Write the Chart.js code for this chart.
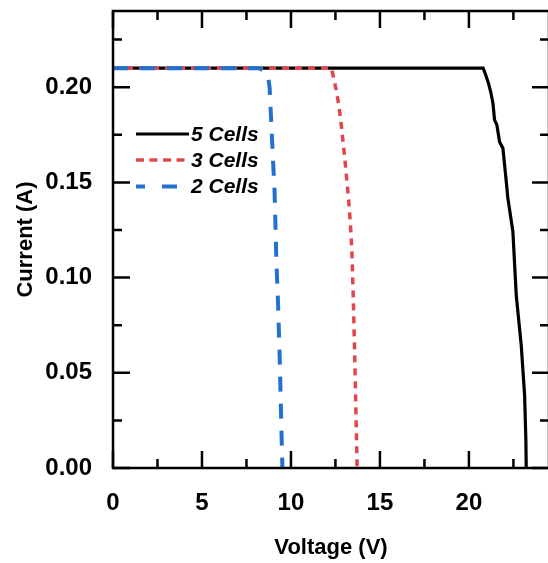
<!DOCTYPE html>
<html>
<head>
<meta charset="utf-8">
<script src="https://cdn.jsdelivr.net/npm/chart.js@4"></script>
<style>
  html, body { margin: 0; padding: 0; background: #fff; overflow: hidden; }
  #wrap { width: 548px; height: 563px; overflow: hidden; position: relative; }
</style>
</head>
<body>
<div id="wrap"><canvas id="c" width="556" height="563"></canvas></div>
<script>
// ---- data ----
const seriesNames = ['5 Cells', '3 Cells', '2 Cells'];
const cells5V = [0, 20.8, 20.94, 21.1, 21.22, 21.35, 21.44, 21.57, 21.72, 21.91, 22.05, 22.19, 22.47, 22.66, 22.94, 23.13, 23.2, 23.22];
const cells5I = [0.21, 0.21, 0.2065, 0.202, 0.1977, 0.1916, 0.1828, 0.1802, 0.1714, 0.1679, 0.155, 0.1416, 0.1242, 0.0907, 0.0644, 0.0381, 0.015, 0.0];
const cells3V = [0, 12.27, 12.4, 12.55, 12.7, 12.83, 13.02, 13.15, 13.25, 13.34, 13.42, 13.5, 13.58, 13.65, 13.72];
const cells3I = [0.21, 0.21, 0.205, 0.198, 0.19, 0.18, 0.163, 0.15, 0.14, 0.128, 0.115, 0.09, 0.06, 0.03, 0.0];
const cells2V = [0, 8.2, 8.5, 8.72, 8.8, 8.9, 8.99, 9.08, 9.18, 9.28, 9.37, 9.46, 9.52];
const cells2I = [0.21, 0.21, 0.2085, 0.205, 0.2, 0.18, 0.162, 0.145, 0.109, 0.085, 0.057, 0.022, 0.0];
const xTickValues = [0, 5, 10, 15, 20];
const xTickLabels = ['0', '5', '10', '15', '20'];
const yTickValues = [0, 0.05, 0.10, 0.15, 0.20];
const yTickLabels = ['0.00', '0.05', '0.10', '0.15', '0.20'];
const xMinorValues = [2.5, 7.5, 12.5, 17.5, 22.5];
const yMinorValues = [0.025, 0.075, 0.125, 0.175, 0.225];

const pts = (xs, ys) => xs.map((x, i) => ({x: x, y: ys[i]}));

const FONT = "'Liberation Sans', Arial, Helvetica, sans-serif";
const styles = [
  {color: '#000000', width: 3.2, dash: []},
  {color: '#E0474C', width: 3.5, dash: [7, 6]},
  {color: '#2470D0', width: 4, dash: [15, 12]}
];

const framePlugin = {
  id: 'frame',
  afterDraw(chart) {
    const ctx = chart.ctx;
    const a = chart.chartArea;
    const xs = chart.scales.x, ys = chart.scales.y;
    ctx.save();
    ctx.strokeStyle = '#000';
    ctx.lineWidth = 2.5;
    ctx.setLineDash([]);
    ctx.strokeRect(a.left, a.top, a.right - a.left, a.bottom - a.top);
    const MAJ = 17, MIN = 9;
    const tickX = (v, len) => {
      const px = xs.getPixelForValue(v);
      ctx.beginPath();
      ctx.moveTo(px, a.bottom); ctx.lineTo(px, a.bottom - len);
      ctx.moveTo(px, a.top); ctx.lineTo(px, a.top + len);
      ctx.stroke();
    };
    const tickY = (v, len) => {
      const py = ys.getPixelForValue(v);
      ctx.beginPath();
      ctx.moveTo(a.left, py); ctx.lineTo(a.left + len, py);
      ctx.moveTo(a.right, py); ctx.lineTo(a.right - len, py);
      ctx.stroke();
    };
    xTickValues.forEach(v => tickX(v, MAJ));
    xMinorValues.forEach(v => tickX(v, MIN));
    yTickValues.forEach(v => tickY(v, MAJ));
    yMinorValues.forEach(v => tickY(v, MIN));

    // legend
    const lx0 = a.left + 23, lx1 = a.left + 76, tx = a.left + 78;
    const rows = [a.top + 123, a.top + 149, a.top + 175.5];
    ctx.font = "italic bold 21px " + FONT;
    ctx.textBaseline = 'middle';
    ctx.textAlign = 'left';
    chart.data.datasets.forEach((ds, i) => {
      const st = styles[i];
      ctx.strokeStyle = st.color;
      ctx.lineWidth = st.width;
      ctx.setLineDash(i === 2 ? [15, 17] : (i === 1 ? [8, 5.5] : []));
      ctx.lineDashOffset = i === 2 ? 6 : 0;
      ctx.beginPath();
      ctx.moveTo(lx0, rows[i]); ctx.lineTo(lx1, rows[i]);
      ctx.stroke();
      ctx.setLineDash([]);
      ctx.fillStyle = '#000';
      ctx.fillText(ds.label, tx, rows[i] + 1);
    });
    ctx.restore();
  }
};

new Chart(document.getElementById('c'), {
  type: 'line',
  data: {
    datasets: [
      {label: seriesNames[0], data: pts(cells5V, cells5I), order: 3},
      {label: seriesNames[1], data: pts(cells3V, cells3I), order: 2},
      {label: seriesNames[2], data: pts(cells2V, cells2I), order: 1}
    ].map((d, i) => Object.assign(d, {
      borderColor: styles[i].color,
      borderWidth: styles[i].width,
      borderDash: styles[i].dash,
      pointRadius: 0,
      tension: 0,
      fill: false,
      borderCapStyle: 'butt'
    }))
  },
  options: {
    responsive: false,
    animation: false,
    devicePixelRatio: 1,
    layout: {padding: {top: 11, right: 7, left: 0, bottom: 0}},
    plugins: {legend: {display: false}, tooltip: {enabled: false}},
    scales: {
      x: {
        type: 'linear',
        min: 0, max: 24.5,
        grid: {display: false, drawTicks: false},
        border: {display: false},
        afterBuildTicks: s => { s.ticks = xTickValues.map(v => ({value: v})); },
        afterFit: s => { s.height = 95; s.paddingLeft = 0; s.paddingRight = 0; s.paddingTop = 0; s.paddingBottom = 0; },
        ticks: {
          padding: 21,
          color: '#000',
          font: {family: FONT, size: 24, weight: 'bold'},
          callback: (v) => xTickLabels[xTickValues.indexOf(v)]
        },
        title: {
          display: true, text: 'Voltage (V)', color: '#000',
          font: {family: FONT, size: 22, weight: 'bold'},
          padding: {top: 0, bottom: 2}
        }
      },
      y: {
        type: 'linear',
        min: 0, max: 0.24,
        grid: {display: false, drawTicks: false},
        border: {display: false},
        afterBuildTicks: s => { s.ticks = yTickValues.map(v => ({value: v})); },
        afterFit: s => { s.width = 113; s.paddingLeft = 0; s.paddingRight = 0; s.paddingTop = 0; s.paddingBottom = 0; },
        ticks: {
          padding: 21,
          color: '#000',
          font: {family: FONT, size: 24, weight: 'bold'},
          callback: (v) => yTickLabels[yTickValues.findIndex(t => Math.abs(t - v) < 1e-9)]
        },
        title: {
          display: true, text: 'Current (A)', color: '#000',
          font: {family: FONT, size: 22, weight: 'bold'},
          padding: {top: 13, bottom: 0}
        }
      }
    }
  },
  plugins: [framePlugin]
});
</script>
</body>
</html>
